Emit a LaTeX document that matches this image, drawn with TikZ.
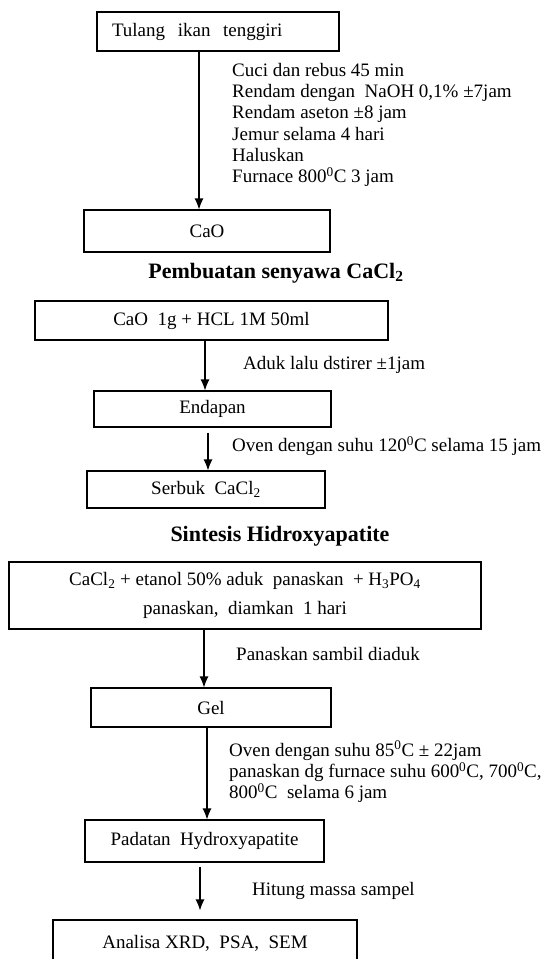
\documentclass[tikz,border=0pt]{standalone}
\usepackage{fontspec}
\setmainfont{Liberation Serif}
\usetikzlibrary{arrows.meta}

\begin{document}
\begin{tikzpicture}[x=1pt,y=-1pt,
        font=\fontsize{19}{21.3}\selectfont,
        box/.style={draw,line width=1.1pt,inner sep=0pt},
        note/.style={anchor=west,align=left,inner sep=0pt},
        head/.style={font=\fontsize{22}{24}\selectfont\bfseries},
        >={Latex[length=11pt,width=9pt]}]
        \useasboundingbox (0,0) rectangle (541,959);
        \clip (0,0) rectangle (541,959);
        % preparasi CaO
        \node[box,inner xsep=15pt,text width=212pt,align=left,minimum height=39pt] (tulang) at (218,31.5) {Tulang\ \ ikan\ \ tenggiri};
        \node[box,minimum width=246pt,minimum height=42pt] (cao) at (207,231) {CaO};
        \node[note] (cuci) at (232,125) {Cuci dan rebus 45 min\\Rendam dengan\ \ NaOH 0,1\% ±7jam\\Rendam aseton ±8 jam\\Jemur selama 4 hari\\Haluskan\\Furnace 800\textsuperscript{0}C 3 jam};
        \coordinate (a1) at (199,0);
        \draw[line width=1.1pt,->] (tulang.south -| a1) -- (cao.north -| a1);
        % CaCl2
        \node[head] (judul1) at (276,273) {Pembuatan senyawa CaCl\textsubscript{2}};
        \node[box,minimum width=353pt,minimum height=39pt] (campur) at (211.5,320.5) {CaO\ \ 1g + HCL 1M 50ml};
        \node[box,minimum width=237pt,minimum height=36pt] (endapan) at (212.5,409) {Endapan};
        \node[box,minimum width=238pt,minimum height=37pt] (serbuk) at (206,489.5) {Serbuk\ \ CaCl\textsubscript{2}};
        \node[note] (aduk) at (243,365) {Aduk lalu dstirer ±1jam};
        \node[note] (oven1) at (232,446) {Oven dengan suhu 120\textsuperscript{0}C selama 15 jam};
        \coordinate (a2) at (205,0);
        \coordinate (a3) at (208,0);
        \draw[line width=1.1pt,->] (campur.south -| a2) -- (endapan.north -| a2);
        \draw[line width=1.1pt,->] ([yshift=-5pt]endapan.south -| a3) -- (serbuk.north -| a3);
        % hidroksiapatit
        \node[head] (judul2) at (280,536) {Sintesis Hidroxyapatite};
        \node[box,minimum width=472pt,minimum height=67pt,align=center] (larutan) at (245,595.5) {CaCl\textsubscript{2} + etanol 50\% aduk\ \ panaskan\ \ + H\textsubscript{3}PO\textsubscript{4}\\[7pt]panaskan,\ \ diamkan\ \ 1 hari};
        \node[box,minimum width=240pt,minimum height=39pt] (gel) at (211,707.5) {Gel};
        \node[box,minimum width=239pt,minimum height=42pt] (padatan) at (204.5,841) {Padatan\ \ Hydroxyapatite};
        \node[box,minimum width=304pt,minimum height=46pt] (analisa) at (205,943) {Analisa XRD,\ \ PSA,\ \ SEM};
        \node[note] (panas) at (236,654) {Panaskan sambil diaduk};
        \node[note] (oven2) at (229,772) {Oven dengan suhu 85\textsuperscript{0}C ± 22jam\\panaskan dg furnace suhu 600\textsuperscript{0}C, 700\textsuperscript{0}C,\\800\textsuperscript{0}C\ \ selama 6 jam};
        \node[note] (hitung) at (252,891) {Hitung massa sampel};
        \coordinate (a4) at (204,0);
        \coordinate (a5) at (207,0);
        \coordinate (a6) at (200,0);
        \draw[line width=1.1pt,->] (larutan.south -| a4) -- (gel.north -| a4);
        \draw[line width=1.1pt,->] (gel.south -| a5) -- (padatan.north -| a5);
        \draw[line width=1.1pt,->] ([yshift=-4pt]padatan.south -| a6) -- ([yshift=9pt]analisa.north -| a6);
    \end{tikzpicture}
\end{document}
